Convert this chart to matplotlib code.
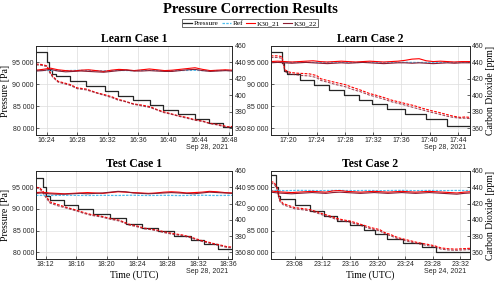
import matplotlib
matplotlib.use('Agg')
import matplotlib.pyplot as plt
import matplotlib.dates as mdates
from matplotlib.ticker import FuncFormatter
import numpy as np
import pandas as pd

# -------------------
# data, times are minutes after the full hour
# -------------------
# Learn Case 1, 2021-09-28 16:xx
l1_p_t = [22.6, 24.0, 24.3, 24.7, 25.2, 27.1, 29.2, 31.7, 33.4, 35.4, 37.6, 39.3, 41.3, 43.5, 45.4, 47.2, 48.4]
l1_p = [97300, 95000, 93300, 92300, 91800, 90700, 89500, 88400, 87250, 86350, 85350, 84200, 83100, 81950, 81200, 80250, 80250]
l1_raw_t = [22.6, 23.3, 24.0, 24.4, 24.8, 25.5, 26.3, 27.1, 28.0, 29.2, 30.6, 31.7, 32.6, 33.4, 34.2, 35.4, 36.5, 37.6,
            38.5, 39.3, 40.3, 41.3, 42.4, 43.5, 44.5, 45.4, 46.3, 47.2, 47.8, 48.4]
l1_raw21 = [438, 437.5, 436, 429, 423, 417, 415, 413, 409, 407.5, 403, 400.5, 398, 395, 393, 389.5, 388, 386,
            382.5, 380, 377.5, 375, 373, 370, 368.5, 366, 364.5, 363, 361.5, 362]
l1_raw22 = [437, 436.5, 435, 427.5, 422, 416, 414, 412, 408, 406.5, 402.5, 399.5, 397, 394, 392.5, 389, 387, 385,
            382, 379, 377, 374.5, 372, 369.5, 368, 365.5, 364, 362, 361, 361]
l1_t = [22.6, 23.5, 24.5, 25.5, 26.5, 27.5, 28.5, 29.5, 30.5, 31.5, 32.5, 33.5, 34.5, 35.5, 36.5, 37.5, 38.5, 39.5,
        40.5, 41.5, 42.5, 43.5, 44.5, 45.5, 46.5, 47.5, 48.4]
l1_ref = [430.0, 430.2, 430.1, 429.9, 430.0, 430.2, 430.3, 430.1, 430.0, 429.8, 430.0, 430.2, 430.1, 430.0, 430.2,
          430.3, 430.1, 429.9, 430.0, 430.1, 430.2, 430.3, 430.0, 429.9, 430.1, 430.2, 430.0]
l1_k21 = [430.5, 431.5, 433.0, 431.0, 430.0, 429.5, 430.5, 431.0, 430.0, 429.0, 430.5, 431.5, 431.0, 430.0, 431.0,
          432.0, 431.0, 430.0, 430.5, 431.5, 432.5, 433.5, 431.5, 430.0, 430.5, 431.0, 430.5]
l1_k22 = [429.5, 430.0, 431.5, 429.5, 428.5, 429.0, 429.5, 429.0, 428.5, 428.0, 429.0, 430.0, 430.5, 429.5, 429.5,
          430.0, 429.5, 429.0, 429.0, 430.0, 431.0, 431.5, 430.0, 429.0, 429.5, 430.0, 429.5]

# Learn Case 2, 2021-09-28 17:xx
l2_p_t = [17.5, 19.1, 19.4, 19.8, 21.7, 23.6, 25.8, 27.9, 30.0, 31.8, 33.9, 36.5, 39.5, 42.5, 45.7]
l2_p = [97400, 94800, 93100, 92300, 91000, 89800, 88700, 87550, 86500, 85450, 84350, 83200, 82050, 80500, 80500]
l2_raw_t = [17.5, 18.5, 19.1, 19.5, 20.2, 21.0, 22.0, 23.0, 24.0, 24.6, 25.5, 26.7, 28.0, 29.1, 30.3, 31.5, 32.4,
            33.4, 34.6, 35.8, 36.7, 37.7, 39.0, 40.3, 41.3, 42.4, 43.3, 44.3, 45.0, 45.7]
l2_raw21 = [448, 448, 447, 431, 428, 427, 426.5, 426, 424, 420, 418, 415.5, 413, 409.5, 406, 402, 400,
            397.5, 394, 391.5, 389.5, 387.5, 384, 381, 379, 376.5, 374.5, 373, 373.5, 373]
l2_raw22 = [446, 446, 445, 429, 426, 425, 424, 423.5, 421.5, 418, 416, 413, 410.5, 407, 404, 400, 398,
            395.5, 392, 389.5, 387.5, 385, 382, 379, 377, 374.5, 373, 372, 372, 371.5]
l2_t = [17.5, 18.5, 19.5, 20.5, 21.5, 22.5, 23.5, 24.5, 25.5, 26.5, 27.5, 28.5, 29.5, 30.5, 31.5, 32.5, 33.5, 34.5,
        35.5, 36.5, 37.5, 38.5, 39.5, 40.5, 41.5, 42.5, 43.5, 44.5, 45.7]
l2_ref = [440.0, 440.1, 439.9, 440.0, 440.2, 440.1, 440.0, 439.9, 440.0, 440.1, 440.2, 440.0, 439.9, 440.0, 440.1,
          440.0, 439.8, 440.0, 440.1, 440.2, 440.0, 439.9, 440.0, 440.1, 440.0, 439.9, 440.0, 440.1, 440.0]
l2_k21 = [441.0, 441.5, 441.0, 440.5, 441.0, 441.5, 442.0, 441.0, 440.5, 441.0, 441.5, 441.0, 440.5, 441.0, 441.5,
          441.0, 440.5, 441.0, 441.5, 442.5, 444.0, 444.5, 442.0, 441.0, 441.5, 441.0, 440.5, 441.0, 441.0]
l2_k22 = [439.5, 440.0, 439.5, 439.0, 439.5, 440.0, 439.5, 439.0, 438.5, 439.0, 439.5, 439.0, 439.5, 440.0, 439.5,
          439.0, 438.5, 439.0, 439.5, 439.5, 439.0, 439.5, 439.0, 438.5, 439.0, 439.5, 439.0, 439.5, 439.5]

# Test Case 1, 2021-09-28 18:xx
t1_p_t = [10.75, 11.7, 12.1, 12.6, 14.4, 16.2, 18.2, 20.4, 22.6, 24.6, 26.8, 28.8, 31.1, 32.8, 34.6, 36.5]
t1_p = [97250, 95000, 93000, 92000, 90900, 89900, 88800, 87900, 86550, 85650, 84900, 83750, 82800, 81900, 80700, 80700]
t1_raw_t = [10.75, 11.2, 11.6, 12.0, 12.6, 13.7, 14.7, 16.2, 17.0, 18.0, 19.3, 20.6, 21.7, 23.0, 24.0, 24.9, 25.8,
            26.6, 27.7, 28.8, 29.9, 31.0, 31.8, 32.5, 33.4, 34.2, 35.2, 35.8, 36.5]
t1_raw21 = [440, 439.5, 436, 430, 422, 418.5, 415.5, 411.5, 409, 406.5, 404.5, 401.5, 399.5, 394.5, 392.5, 390, 388.5,
            387.5, 385, 383, 381.5, 379, 376.5, 374.5, 372.5, 370.5, 368.5, 367, 366.5]
t1_raw22 = [439, 438.5, 434, 428, 420.5, 417, 414.5, 410.5, 408, 405.5, 403.5, 400.5, 398.5, 393.5, 391.5, 389, 388,
            386.5, 384, 382, 380.5, 378, 375.5, 373.5, 371.5, 369.5, 367.5, 366, 365.5]
t1_t = [10.75, 11.5, 12.5, 13.5, 14.5, 15.5, 16.5, 17.5, 18.5, 19.5, 20.5, 21.5, 22.5, 23.5, 24.5, 25.5, 26.5, 27.5,
        28.5, 29.5, 30.5, 31.5, 32.5, 33.5, 34.5, 35.5, 36.5]
t1_ref = [430.0, 430.1, 429.9, 430.0, 430.2, 430.1, 430.0, 429.9, 430.0, 430.1, 430.0, 429.9, 430.1, 430.2, 430.0,
          429.9, 430.0, 430.1, 430.0, 429.8, 430.0, 430.1, 430.2, 430.0, 429.9, 430.0, 430.1]
t1_k21 = [433.5, 434.0, 433.0, 432.5, 432.0, 432.5, 433.0, 433.5, 433.0, 432.5, 433.5, 434.5, 434.0, 433.5, 433.0,
          432.5, 433.0, 434.0, 434.5, 434.0, 433.0, 433.5, 434.0, 435.0, 434.5, 433.5, 433.0]
t1_k22 = [432.5, 433.0, 432.0, 431.5, 431.5, 432.0, 432.5, 432.0, 432.5, 433.0, 434.0, 435.0, 434.5, 433.0, 432.5,
          432.0, 432.5, 433.0, 433.5, 433.0, 432.5, 432.0, 433.0, 434.0, 433.5, 433.0, 432.5]

# Test Case 2, 2021-09-24 23:xx
t2_p_t = [4.5, 5.3, 5.6, 5.9, 8.0, 10.2, 12.3, 14.1, 16.0, 18.1, 19.6, 21.3, 23.7, 26.4, 28.5, 33.4]
t2_p = [97900, 95000, 93000, 92300, 90850, 89600, 88400, 87300, 86200, 85150, 84200, 83100, 82100, 81150, 80050, 80050]
t2_raw_t = [4.5, 5.0, 5.4, 5.8, 6.3, 7.3, 8.0, 9.0, 10.2, 11.0, 12.0, 13.0, 14.2, 15.0, 16.0, 17.0, 18.1, 19.0,
            20.3, 21.0, 22.0, 23.0, 24.2, 25.6, 26.5, 27.5, 28.3, 29.2, 30.2, 31.3, 32.3, 33.4]
t2_raw21 = [447, 446, 440, 425, 420, 417, 415, 414, 412.5, 410.5, 407.5, 405, 401.5, 400, 398.5, 396, 393, 390.5,
            388, 384.5, 381.5, 378, 375.5, 372.5, 371, 369.5, 368, 365.5, 364.5, 364, 364.5, 365]
t2_raw22 = [445, 444, 438, 423, 418.5, 415.5, 413.5, 412.5, 411, 409, 406, 403.5, 400, 398.5, 397, 394.5, 391.5, 389,
            386.5, 383, 380, 376.5, 374, 371, 369.5, 368, 366.5, 364, 363, 362.5, 363, 363.5]
t2_t = [4.5, 5.5, 6.5, 7.5, 8.5, 9.5, 10.5, 11.5, 12.5, 13.5, 14.5, 15.5, 16.5, 17.5, 18.5, 19.5, 20.5, 21.5,
        22.5, 23.5, 24.5, 25.5, 26.5, 27.5, 28.5, 29.5, 30.5, 31.5, 32.5, 33.4]
t2_ref = [436.0, 436.1, 435.9, 436.0, 436.2, 436.1, 436.0, 435.9, 436.0, 436.1, 436.2, 436.0, 435.9, 436.0, 436.1,
          436.0, 435.8, 436.0, 436.1, 436.2, 436.0, 435.9, 436.0, 436.1, 436.0, 435.9, 436.0, 436.1, 436.0, 436.0]
t2_k21 = [435.5, 434.5, 434.0, 433.5, 434.0, 434.5, 435.0, 434.5, 434.0, 435.5, 436.0, 435.0, 434.5, 434.0, 434.5,
          435.0, 434.5, 434.0, 434.5, 435.0, 434.5, 434.0, 434.5, 435.0, 434.5, 434.0, 433.5, 433.0, 434.0, 434.5]
t2_k22 = [434.0, 433.0, 432.5, 432.0, 432.5, 433.0, 433.5, 433.0, 432.5, 433.5, 434.0, 433.5, 433.0, 432.5, 433.0,
          433.5, 433.0, 432.5, 433.0, 433.5, 433.0, 432.5, 433.0, 433.5, 433.0, 432.5, 432.0, 431.5, 432.5, 433.0]

legend_labels = ['Pressure', 'Ref', 'K30_21', 'K30_22']

# -------------------
# styling
# -------------------
plt.rcParams['font.family'] = ['Liberation Sans', 'DejaVu Sans']
SERIF = 'Liberation Serif'
AXC = '#262626'
C_P, C_REF, C_21, C_22 = '#262626', '#4dbeee', '#ff0000', '#8c1c30'

P_LIM = (78400, 98750)          # left / right axes share the same scaling
C_LIM = (351.5, 460)

fig = plt.figure(figsize=(5, 2.85), dpi=100)


def to_time(base, mins):
    return (pd.Timestamp(base) + pd.to_timedelta(np.array(mins), unit='min')).to_numpy()


def draw_case(rect, title, base, date_txt, p_t, p, raw_t, raw21, raw22, t, ref, k21, k22,
              left_lab=False, right_lab=False, bottom_lab=False):
    ax = fig.add_axes(rect)
    ax2 = ax.twinx()

    ax.plot(to_time(base, p_t), p, color=C_P, lw=0.9, drawstyle='steps-post')
    ax2.plot(to_time(base, raw_t), raw21, color=C_21, lw=0.8, ls=(0, (2.5, 1.2)))
    ax2.plot(to_time(base, raw_t), raw22, color=C_22, lw=0.8, ls=(0, (2.5, 1.2)), alpha=0.8)
    h_ref, = ax2.plot(to_time(base, t), ref, color=C_REF, lw=0.9, ls=(0, (2, 1)))
    h21, = ax2.plot(to_time(base, t), k21, color=C_21, lw=0.8)
    h22, = ax2.plot(to_time(base, t), k22, color=C_22, lw=0.8)

    tt = to_time(base, t)
    ax.set_xlim(tt[0], tt[-1])
    ax.set_ylim(*P_LIM)
    ax2.set_ylim(*C_LIM)
    ax.set_yticks([80000, 85000, 90000, 95000])
    ax.yaxis.set_major_formatter(FuncFormatter(lambda v, pos: f'{v:,.0f}'.replace(',', ' ')))
    ax2.set_yticks([360, 380, 400, 420, 440, 460])
    ax.xaxis.set_major_locator(mdates.MinuteLocator(byminute=range(0, 60, 4)))
    ax.xaxis.set_major_formatter(mdates.DateFormatter('%H:%M'))

    ax.grid(True, color='#dcdcdc', lw=0.5)
    for a in (ax, ax2):
        a.tick_params(direction='in', length=2, width=0.5, labelsize=5, pad=1.5, colors=AXC)
        for s in a.spines.values():
            s.set_color(AXC)
            s.set_linewidth(0.6)

    ax.set_title(title, fontfamily=SERIF, fontweight='bold', fontsize=8.5, pad=3)
    ax.annotate(date_txt, xy=(1, 0), xycoords='axes fraction', xytext=(-3, -9), textcoords='offset points',
                ha='right', va='center', fontsize=5, color=AXC)
    if left_lab:
        ax.set_ylabel('Pressure [Pa]', fontfamily=SERIF, fontsize=7, labelpad=1.5)
    if right_lab:
        ax2.set_ylabel('Carbon Dioxide [ppm]', fontfamily=SERIF, fontsize=7, labelpad=1.5)
    if bottom_lab:
        ax.set_xlabel('Time (UTC)', fontfamily=SERIF, fontsize=7, labelpad=1.5)
    return ax.lines[0], h_ref, h21, h22


handles = draw_case([0.072, 0.5263, 0.3926, 0.3123], 'Learn Case 1', '2021-09-28 16:00', 'Sep 28, 2021',
                    l1_p_t, l1_p, l1_raw_t, l1_raw21, l1_raw22, l1_t, l1_ref, l1_k21, l1_k22, left_lab=True)
draw_case([0.5414, 0.5263, 0.3986, 0.3123], 'Learn Case 2', '2021-09-28 17:00', 'Sep 28, 2021',
          l2_p_t, l2_p, l2_raw_t, l2_raw21, l2_raw22, l2_t, l2_ref, l2_k21, l2_k22, right_lab=True)
draw_case([0.072, 0.0902, 0.3926, 0.3098], 'Test Case 1', '2021-09-28 18:00', 'Sep 28, 2021',
          t1_p_t, t1_p, t1_raw_t, t1_raw21, t1_raw22, t1_t, t1_ref, t1_k21, t1_k22, left_lab=True, bottom_lab=True)
draw_case([0.5414, 0.0902, 0.3986, 0.3098], 'Test Case 2', '2021-09-24 23:00', 'Sep 24, 2021',
          t2_p_t, t2_p, t2_raw_t, t2_raw21, t2_raw22, t2_t, t2_ref, t2_k21, t2_k22, right_lab=True, bottom_lab=True)

fig.suptitle('Pressure Correction Results', fontfamily=SERIF, fontweight='bold', fontsize=10.5, y=0.99)
leg = fig.legend(handles, legend_labels, loc='center', bbox_to_anchor=(0.5, 0.918), ncol=4,
                 prop={'family': SERIF, 'size': 5.2}, frameon=True, fancybox=False, edgecolor=AXC,
                 handlelength=1.3, handletextpad=0.2, columnspacing=0.4, borderpad=0.15, borderaxespad=0)
leg.get_frame().set_linewidth(0.6)

fig.savefig('out.png', dpi=100)
